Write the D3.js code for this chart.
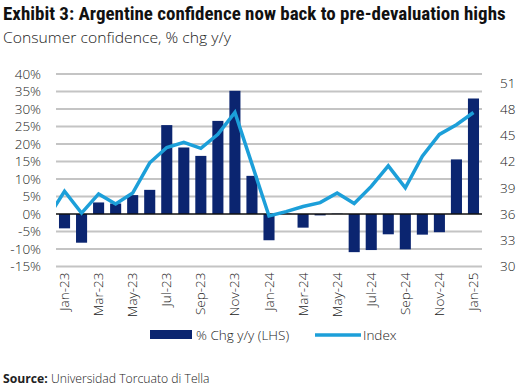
<!DOCTYPE html>
<html><head><meta charset="utf-8">
<script src="https://cdn.jsdelivr.net/npm/d3@7"></script>
<style>
body{margin:0;background:#fff;}
svg{display:block;font-family:"Open Sans",sans-serif;}
</style></head>
<body><svg id="c" width="523" height="391"></svg>
<script>
const months = ["Jan-23","Feb-23","Mar-23","Apr-23","May-23","Jun-23","Jul-23","Aug-23","Sep-23","Oct-23","Nov-23","Dec-23",
"Jan-24","Feb-24","Mar-24","Apr-24","May-24","Jun-24","Jul-24","Aug-24","Sep-24","Oct-24","Nov-24","Dec-24","Jan-25"];
const pctChg = [-4.1,-8.2,3.3,3.0,5.4,6.9,25.4,19.0,16.6,26.6,35.2,10.9,
-7.5,0.1,-3.9,-0.4,0.1,-10.9,-10.3,-5.8,-10.1,-5.9,-5.2,15.6,33.0];
const indexVals = [38.6,36.1,38.3,37.15,38.4,41.85,43.6,44.2,43.5,45.1,47.6,41.7,
35.77,36.27,36.85,37.3,38.4,37.2,39.15,41.5,39.0,42.6,45.1,46.2,47.6];
const indexDec22 = 35.5; // prior month, clipped at plot edge
const leftTicks = [-15,-10,-5,0,5,10,15,20,25,30,35,40];
const rightTicks = [30,33,36,39,42,45,48,51];
const xLabels = ["Jan-23","Mar-23","May-23","Jul-23","Sep-23","Nov-23","Jan-24","Mar-24","May-24","Jul-24","Sep-24","Nov-24","Jan-25"];

const svg = d3.select("#c");
const L = 56, R = 482, T = 74, B = 266.5;
const x = d3.scaleBand().domain(months).range([L, R]).paddingInner(0.35).paddingOuter(0.175);
const yL = d3.scaleLinear().domain([-15, 40]).range([B, T]);
const yR = d3.scaleLinear().domain([30, 52]).range([B, T]);
const navy = "#0b2570", blue = "#1c9fd9";

// Title: fit to width by font size (condensed family)
const title = svg.append("text").attr("x", 3).attr("y", 20).attr("font-size", 18).attr("font-weight", 700)
  .attr("font-family", "'Liberation Sans Narrow','Roboto Condensed','Open Sans',sans-serif")
  .attr("fill", "#111")
  .text("Exhibit 3: Argentine confidence now back to pre-devaluation highs");
const tw = title.node().getComputedTextLength();
title.attr("font-size", Math.min(19, 18 * 503 / tw));

svg.append("text").attr("x", 3).attr("y", 43).attr("font-size", 15).attr("font-weight", 300)
  .attr("fill", "#222").attr("textLength", 228).attr("lengthAdjust", "spacingAndGlyphs")
  .text("Consumer confidence, % chg y/y");

// gridlines
svg.append("g").selectAll("line").data(leftTicks.filter(d => d !== 0)).join("line")
  .attr("x1", L).attr("x2", R).attr("y1", d => yL(d)).attr("y2", d => yL(d))
  .attr("stroke", "#c4c4c4").attr("stroke-width", 1.8);

// left axis
const gl = svg.append("g").attr("transform", `translate(${L},0)`)
  .call(d3.axisLeft(yL).tickValues(leftTicks).tickFormat(d => d + "%").tickSize(0).tickPadding(15));
gl.select(".domain").remove();
gl.selectAll("text").attr("font-size", 13.5).attr("fill", "#222").attr("font-family", "Open Sans").attr("font-weight", 300);

// right axis
const gr = svg.append("g").attr("transform", `translate(${R},0)`)
  .call(d3.axisRight(yR).tickValues(rightTicks).tickSize(0).tickPadding(18));
gr.select(".domain").remove();
gr.selectAll("text").attr("font-size", 13.5).attr("fill", "#222").attr("font-family", "Open Sans").attr("font-weight", 300);

// bars
svg.append("g").selectAll("rect").data(months).join("rect")
  .attr("x", d => x(d)).attr("width", x.bandwidth())
  .attr("y", (d, i) => yL(Math.max(0, pctChg[i])))
  .attr("height", (d, i) => Math.abs(yL(pctChg[i]) - yL(0)))
  .attr("fill", navy);

// zero line
svg.append("line").attr("x1", L).attr("x2", R).attr("y1", yL(0)).attr("y2", yL(0))
  .attr("stroke", "#111").attr("stroke-width", 1.5);

// index line
svg.append("clipPath").attr("id", "clip").append("rect").attr("x", L).attr("y", 0).attr("width", R - L).attr("height", 391);
const step = x.step();
const pts = [[x(months[0]) + x.bandwidth() / 2 - step, yR(indexDec22)]]
  .concat(months.map((m, i) => [x(m) + x.bandwidth() / 2, yR(indexVals[i])]));
svg.append("path").attr("d", d3.line()(pts)).attr("fill", "none").attr("stroke", blue)
  .attr("stroke-width", 3.5).attr("stroke-linejoin", "miter").attr("clip-path", "url(#clip)");

// x labels
const gx = svg.append("g").attr("transform", `translate(0,${B})`);
gx.selectAll("text").data(xLabels).join("text")
  .attr("transform", d => `translate(${x(d) + x.bandwidth() / 2 + 4.5},6) rotate(-90)`)
  .attr("text-anchor", "end").attr("font-size", 13.5).attr("font-weight", 300).attr("fill", "#222")
  .text(d => d);

// legend
const lg = svg.append("g");
lg.append("rect").attr("x", 150).attr("y", 330).attr("width", 42).attr("height", 9).attr("fill", navy);
lg.append("text").attr("x", 196).attr("y", 340).attr("font-size", 13.5).attr("font-weight", 300).attr("fill", "#222").text("% Chg y/y (LHS)");
lg.append("line").attr("x1", 315).attr("x2", 361).attr("y1", 335).attr("y2", 335).attr("stroke", blue).attr("stroke-width", 3.5);
lg.append("text").attr("x", 363).attr("y", 340).attr("font-size", 13.5).attr("font-weight", 300).attr("fill", "#222").text("Index");

// source
const src = svg.append("text").attr("x", 3).attr("y", 383).attr("font-size", 12.2).attr("fill", "#222");
src.append("tspan").attr("font-weight", 700).text("Source:");
src.append("tspan").attr("font-weight", 300).text(" Universidad Torcuato di Tella");
</script></body></html>
